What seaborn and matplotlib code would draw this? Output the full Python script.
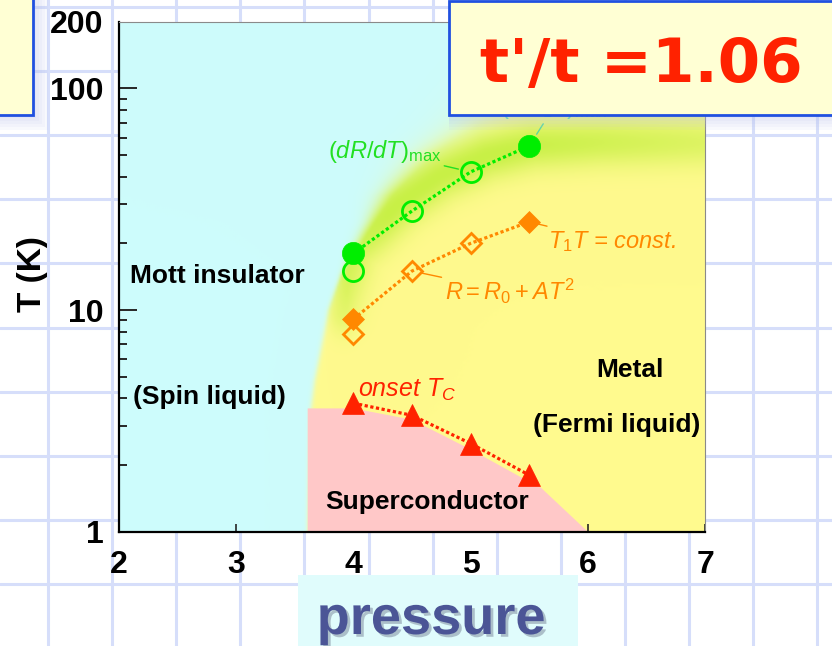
import numpy as np
import pandas as pd
import seaborn as sns
import matplotlib.pyplot as plt
import matplotlib.patheffects as pe
from matplotlib import font_manager
from matplotlib.patches import Rectangle
from matplotlib.lines import Line2D
from matplotlib.ticker import LogLocator, NullFormatter

sns.set_theme(style="white")
plt.rcParams["font.family"] = ["Liberation Sans", "DejaVu Sans"]
plt.rcParams["mathtext.fontset"] = "custom"
plt.rcParams["mathtext.rm"] = "Liberation Sans"
plt.rcParams["mathtext.it"] = "Liberation Sans:italic"
plt.rcParams["mathtext.bf"] = "Liberation Sans:bold"


def has_font(name):
    try:
        font_manager.findfont(name, fallback_to_default=False)
        return True
    except Exception:
        return False


NARROW = has_font("Liberation Sans Narrow")

# data (pressure in kbar-ish units, T in K)
drdt_p = [4.0, 4.5, 5.0]          # (dR/dT)max, open circles
drdt_T = [15, 28, 42]
t1t_max_p = [4.0, 5.5]            # (1/T1T)max, filled circles
t1t_max_T = [18, 55]
t1t_const_p = [4.0, 5.5]          # T1T = const., filled diamonds
t1t_const_T = [9.1, 25]
fermi_p = [4.0, 4.5, 5.0]         # R = R0 + AT^2, open diamonds
fermi_T = [7.8, 15, 20]
tc_p = [4.0, 4.5, 5.0, 5.5]       # onset Tc, triangles
tc_T = [3.8, 3.35, 2.5, 1.8]

# region boundaries
sc_p = [3.61, 3.61, 4.0, 4.5, 5.0, 5.5, 5.6, 6.0]
sc_T = [1.0, 3.6, 3.6, 3.2, 2.35, 1.68, 1.58, 1.0]
mott_edge_T = [1, 3.6, 4.8, 10, 14.4, 22, 33, 52, 72, 120, 200]
mott_edge_p = [3.61, 3.64, 3.67, 3.79, 3.9, 4.1, 4.3, 4.65, 5.05, 5.6, 6.2]
glow_p = [3.80, 3.97, 4.40, 4.74, 5.14, 5.53, 6.1, 7.0]
glow_T = [10, 19, 30.7, 40.6, 50, 55.6, 57.3, 57.3]

GREEN = "#00ee00"
GREEN_TXT = "#22e022"
ORANGE = "#ff8800"
RED = "#ff2200"
CYAN = np.array([205, 252, 252]) / 255
YELLOW = np.array([255, 250, 142]) / 255
LIME = np.array([200, 240, 70]) / 255

W_PX, H_PX = 832, 646
fig = plt.figure(figsize=(8.32, 6.46), dpi=100)

# graph paper background
for gx in np.arange(48, 832, 64.1):
    fig.add_artist(Line2D([gx / W_PX] * 2, [0, 1], transform=fig.transFigure,
                          color="#d6defa", lw=2.2, zorder=-5))
for gy in np.arange(7, 646, 64.1):
    fig.add_artist(Line2D([0, 1], [1 - gy / H_PX] * 2, transform=fig.transFigure,
                          color="#d6defa", lw=2.2, zorder=-5))

ax_w, ax_h = 586, 510
ax = fig.add_axes([119 / W_PX, (H_PX - 531.7) / H_PX, ax_w / W_PX, ax_h / H_PX])

# shaded phase regions (cyan insulator, yellow metal, green crossover glow)
nx, ny = ax_w // 2, ax_h // 2
P, L = np.meshgrid(2 + 5 * (np.arange(nx) + 0.5) / nx,
                   np.log10(200) * (1 - (np.arange(ny) + 0.5) / ny))
edge = np.interp(L, np.log10(mott_edge_T), mott_edge_p)
soft = np.interp(L, [0, 1.15, 1.4, 1.7, 2.31], [0.01, 0.012, 0.04, 0.12, 0.25])
fy = 1 / (1 + np.exp(-(P - edge) / soft))

px_per_p = ax_w / 5
px_per_dec = ax_h / np.log10(200)
gxp = (np.array(glow_p) - 2) * px_per_p
gyp = np.log10(glow_T) * px_per_dec
seg = np.r_[0, np.cumsum(np.hypot(np.diff(gxp), np.diff(gyp)))]
s = np.linspace(0, seg[-1], 400)
bx, by = np.interp(s, seg, gxp), np.interp(s, seg, gyp)
X, Y = (P - 2) * px_per_p, L * px_per_dec
d2 = np.full(P.shape, 1e12)
for a, b in zip(bx, by):
    d2 = np.minimum(d2, (X - a) ** 2 + (Y - b) ** 2)
amp = np.interp(P, [3.75, 3.95, 4.3, 5.3, 7.0], [0, 0.8, 1.0, 1.0, 0.6])
glow = amp * np.exp(-0.5 * d2 / 17 ** 2) * np.clip(fy * 1.6, 0, 1)

base = CYAN * (1 - fy[..., None]) + YELLOW * fy[..., None]
img = base * (1 - glow[..., None]) + LIME * glow[..., None]
ax.imshow(img, extent=(0, 1, 0, 1), transform=ax.transAxes, aspect="auto",
          interpolation="bilinear", zorder=0)

ax.fill(sc_p, sc_T, color="#ffc8c8", lw=0, zorder=1)

# guide lines through the upper points of each series
green_df = (pd.DataFrame({"p": drdt_p + t1t_max_p, "T": drdt_T + t1t_max_T})
            .groupby("p", as_index=False)["T"].max())
orange_df = (pd.DataFrame({"p": fermi_p + t1t_const_p, "T": fermi_T + t1t_const_T})
             .groupby("p", as_index=False)["T"].max())
tc_df = pd.DataFrame({"p": tc_p, "T": tc_T})

dots = (0, (1, 0.8))
sns.lineplot(data=green_df, x="p", y="T", ax=ax, color=GREEN, lw=2.3,
             linestyle=dots, errorbar=None, zorder=3)
sns.lineplot(data=orange_df, x="p", y="T", ax=ax, color=ORANGE, lw=2.3,
             linestyle=dots, errorbar=None, zorder=3)
sns.lineplot(data=tc_df, x="p", y="T", ax=ax, color=RED, lw=2.3,
             linestyle=dots, errorbar=None, zorder=3)

# markers
sns.lineplot(x=drdt_p, y=drdt_T, ax=ax, color=GREEN, linestyle="none", marker="o",
             markersize=14.5, mfc="none", mec=GREEN, mew=2, errorbar=None, zorder=4)
sns.lineplot(x=t1t_max_p, y=t1t_max_T, ax=ax, color=GREEN, linestyle="none", marker="o",
             markersize=16, mfc=GREEN, mec=GREEN, mew=0.5, errorbar=None, zorder=4)
sns.lineplot(x=fermi_p, y=fermi_T, ax=ax, color=ORANGE, linestyle="none", marker="D",
             markersize=10, mfc="none", mec=ORANGE, mew=2, errorbar=None, zorder=4)
sns.lineplot(x=t1t_const_p, y=t1t_const_T, ax=ax, color=ORANGE, linestyle="none", marker="D",
             markersize=11, mfc=ORANGE, mec=ORANGE, mew=0.5, errorbar=None, zorder=4)
sns.lineplot(x=tc_p, y=tc_T, ax=ax, color=RED, linestyle="none", marker="^",
             markersize=16, mfc=RED, mec=RED, mew=0.5, errorbar=None, zorder=4)

ax.set_yscale("log")
ax.set_xlim(2, 7)
ax.set_ylim(1, 200)
ax.set_xlabel("")
ax.set_ylabel("")
ax.set_xticks([2, 3, 4, 5, 6, 7])
ax.set_yticks([1, 10, 100, 200])
ax.set_yticklabels(["1", "10", "100", "200"])
ax.yaxis.set_minor_locator(LogLocator(base=10, subs=np.arange(2, 10)))
ax.yaxis.set_minor_formatter(NullFormatter())

tick_font = "Liberation Sans Narrow" if NARROW else "Liberation Sans"
tick_size = 24 if NARROW else 23
ax.tick_params(axis="y", which="major", direction="in", length=13, width=1.4,
               left=True, right=False, pad=11, labelsize=tick_size)
ax.tick_params(axis="y", which="minor", direction="in", length=6, width=1.4,
               left=True, right=False)
ax.tick_params(axis="x", which="major", direction="in", length=6, width=1.2,
               bottom=True, top=False, pad=13, labelsize=tick_size)
ax.yaxis.get_major_ticks()[-1].tick1line.set_visible(False)
for lab in ax.get_xticklabels() + ax.get_yticklabels():
    lab.set_fontfamily(tick_font)
    lab.set_fontweight("bold")
    lab.set_color("black")

for side in ["left", "bottom"]:
    ax.spines[side].set_color("black")
    ax.spines[side].set_linewidth(1.6)
for side in ["top", "right"]:
    ax.spines[side].set_color("#8a8a8a")
    ax.spines[side].set_linewidth(0.8)
for side in ax.spines:
    ax.spines[side].set_zorder(6)

# region names
region_kw = dict(fontsize=19, fontweight="bold", color="black", ha="left",
                 va="center", zorder=5)
ax.text(2.094, 14.3, "Mott insulator", **region_kw)
ax.text(2.12, 4.05, "(Spin liquid)", **region_kw)
ax.text(6.075, 5.37, "Metal", **region_kw)
ax.text(5.53, 3.03, "(Fermi liquid)", **region_kw)
ax.text(3.756, 1.36, "Superconductor", **region_kw)

# labelled curves
lead = dict(arrowstyle="-", lw=1, shrinkA=0)
ax.annotate(r"$(dR/dT)_{\rm max}$", xy=(5.0, 42), xytext=(3.78, 51.7),
            color=GREEN_TXT, fontsize=17, ha="left", va="center", zorder=5,
            arrowprops=dict(color=GREEN_TXT, shrinkB=9, **lead))
ax.annotate(r"$(1/T_1T)_{\rm max}$", xy=(5.5, 55), xytext=(5.25, 82),
            color="#5ad8a0", fontsize=17, ha="left", va="center", zorder=5,
            arrowprops=dict(color="#5ad8a0", shrinkB=10, **lead))
ax.annotate(r"$T_1T$ = const.", xy=(5.5, 25), xytext=(5.66, 20.3),
            color=ORANGE, fontsize=17, style="italic", ha="left", va="center",
            zorder=5, arrowprops=dict(color=ORANGE, shrinkB=7, **lead))
ax.annotate(r"$R = R_0 + AT^2$", xy=(4.5, 15), xytext=(4.78, 12.1),
            color=ORANGE, fontsize=17, ha="left", va="center", zorder=5,
            arrowprops=dict(color=ORANGE, shrinkB=7, **lead))
ax.text(4.04, 4.36, r"$onset\ T_C$", color=RED, fontsize=18, ha="left",
        va="center", zorder=5)

# axis titles
fig.text(33 / W_PX, 1 - 274 / H_PX, "T (K)", rotation=90, fontsize=24,
         fontweight="bold", color="black", ha="center", va="center")
fig.add_artist(Rectangle((298 / W_PX, 0), 280 / W_PX, (H_PX - 575) / H_PX,
                         transform=fig.transFigure, facecolor="#e0fcfc",
                         edgecolor="none", zorder=-1))
press_font = "Liberation Sans Narrow" if NARROW else "Liberation Sans"
press_size = 46 if NARROW else 39
fig.text(431 / W_PX, 1 - 634 / H_PX, "pressure", fontsize=press_size,
         fontfamily=press_font, fontweight="bold", color="#4b5596",
         ha="center", va="baseline", zorder=3,
         path_effects=[pe.SimplePatchShadow(offset=(2, -2),
                                            shadow_rgbFace="#333355", alpha=0.3),
                       pe.Normal()])


# framed boxes at the top
def framed_box(x0, y0, x1, y1):
    for k in range(1, 6):
        fig.add_artist(Rectangle((x0 / W_PX, 1 - (y1 + 3 * k) / H_PX),
                                 (x1 - x0 + 3 * k) / W_PX, (y1 - y0 + 3 * k) / H_PX,
                                 transform=fig.transFigure, facecolor="#b8c0ec",
                                 edgecolor="none", alpha=0.09, zorder=7))
    fig.add_artist(Rectangle((x0 / W_PX, 1 - y1 / H_PX), (x1 - x0) / W_PX,
                             (y1 - y0) / H_PX, transform=fig.transFigure,
                             facecolor="#ffffd4", edgecolor="#2050e0", lw=2.0,
                             zorder=8))


framed_box(-10, -10, 33, 115)
framed_box(449, 1, 850, 115)
fig.text(641 / W_PX, 1 - 82 / H_PX, "t'/t =1.06", fontsize=44,
         fontfamily="DejaVu Sans", fontweight="bold", color=RED,
         ha="center", va="baseline", zorder=9)

fig.savefig("out.png", dpi=100)
